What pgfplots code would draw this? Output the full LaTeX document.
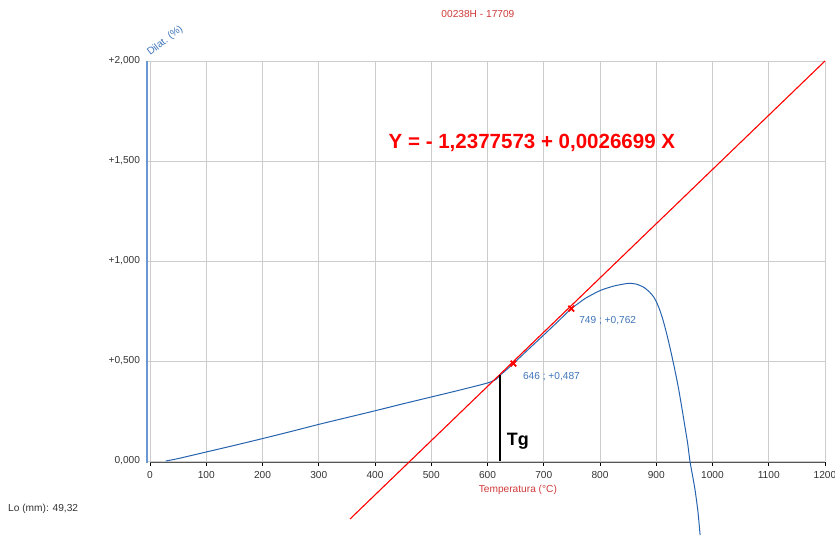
\documentclass[border=0pt]{standalone}
\usepackage{fontspec}
\setmainfont{Liberation Sans}
\usepackage{pgfplots}
\pgfplotsset{compat=1.18}

\definecolor{curveblue}{HTML}{2563AE}
\definecolor{axisblue}{HTML}{6A98D0}
\definecolor{lblblue}{HTML}{3F74B8}
\definecolor{ttlred}{HTML}{D03A3A}
\definecolor{gridgray}{HTML}{CCCCCC}
\definecolor{txtgray}{HTML}{333333}
\definecolor{axgray}{HTML}{555555}

\begin{document}
\begin{tikzpicture}
\begin{axis}[
    scale only axis,
    width=675bp, height=400bp,
    xmin=0, xmax=1200,
    ymin=0, ymax=2,
    clip=false,
    axis x line*=bottom,
    axis y line*=left,
    y axis line style={draw=none},
    x axis line style={draw=axgray, line width=1.3bp, yshift=-1.5bp},
    xtick={0,100,...,1200},
    ytick={0,0.5,1,1.5,2},
    yticklabels={{0,000},{+0,500},{+1,000},{+1,500},{+2,000}},
    tick align=outside,
    major tick length=3.5bp,
    x tick style={black, line width=0.8bp, yshift=-1.5bp},
    y tick style={gridgray, line width=0.8bp},
    grid=major,
    grid style={gridgray, line width=0.9bp},
    tick label style={font=\fontsize{10.2}{12}\selectfont, text=txtgray},
    xticklabel style={yshift=-3bp},
    yticklabel style={xshift=-3bp},
    /pgf/number format/assume math mode=true,
    /pgf/number format/1000 sep={},
]
% bounding box of the whole picture
\coordinate (bl) at (axis cs:-266.7,-0.385);
\coordinate (tr) at (axis cs:1217.8,2.305);

% blue y axis line
\draw[axisblue, line width=2bp] (axis cs:-5.3,2.0) -- (axis cs:-5.3,-0.01);

% dilatometric curve
\addplot[curveblue, line width=1bp, smooth, tension=0.4] coordinates {
  (28,0.000) (50,0.012) (100,0.045) (150,0.078) (200,0.112) (250,0.147)
  (300,0.183) (350,0.217) (400,0.251) (450,0.286) (500,0.320) (550,0.354)
  (600,0.390) (615,0.408) (622,0.428) (630,0.447) (646,0.487) (670,0.551)
  (700,0.630) (725,0.697) (749,0.762) (760,0.785) (775,0.815) (800,0.852)
  (825,0.875) (850,0.888) (865,0.884) (878,0.868) (888,0.845) (895,0.822)
  (900,0.797) (906,0.757) (912,0.705) (918,0.642) (924,0.572) (932,0.470)
  (939,0.372) (945,0.275) (951,0.172) (956,0.085) (960,-0.003) (965,-0.080)
  (969,-0.145) (974,-0.250) (978,-0.370)
};

% regression line Y = -1,2377573 + 0,0026699 X (as drawn)
\addplot[red, line width=1.1bp] coordinates {(355.6,-0.290) (1200,2.000)};

% Tg line
\addplot[black, line width=2bp] coordinates {(622,0) (622,0.428)};

% selected points
\addplot[only marks, mark=x, red, mark size=4bp, line width=1.8bp]
  coordinates {(646,0.487) (749,0.762)};

\node[font=\fontsize{10.2}{12}\selectfont, text=lblblue, anchor=west]
  at (axis cs:657,0.42) {646 ; +0,487};
\node[font=\fontsize{10.2}{12}\selectfont, text=lblblue, anchor=west]
  at (axis cs:757,0.70) {749 ; +0,762};
\node[font=\fontsize{20.6}{24}\selectfont\bfseries, text=red]
  at (axis cs:679,1.59) {Y = - 1,2377573 + 0,0026699 X};
\node[font=\fontsize{18}{22}\selectfont\bfseries, text=black]
  at (axis cs:654,0.10) {Tg};

\node[font=\fontsize{10.2}{12}\selectfont, text=ttlred]
  at (axis cs:583,2.235) {00238H - 17709};
\node[font=\fontsize{10.2}{12}\selectfont, text=ttlred]
  at (axis cs:654,-0.145) {Temperatura (°C)};
\node[font=\fontsize{10.2}{12}\selectfont, text=lblblue, rotate=38]
  at (axis cs:27,2.10) {Dilat.~(\%)};
\node[font=\fontsize{10.2}{12}\selectfont, text=txtgray, anchor=west, inner sep=0pt]
  at (axis cs:-252.4,-0.24) {Lo (mm): 49,32};
\end{axis}
\pgfresetboundingbox
\path[use as bounding box] (bl) rectangle (tr);
\end{tikzpicture}
\end{document}
